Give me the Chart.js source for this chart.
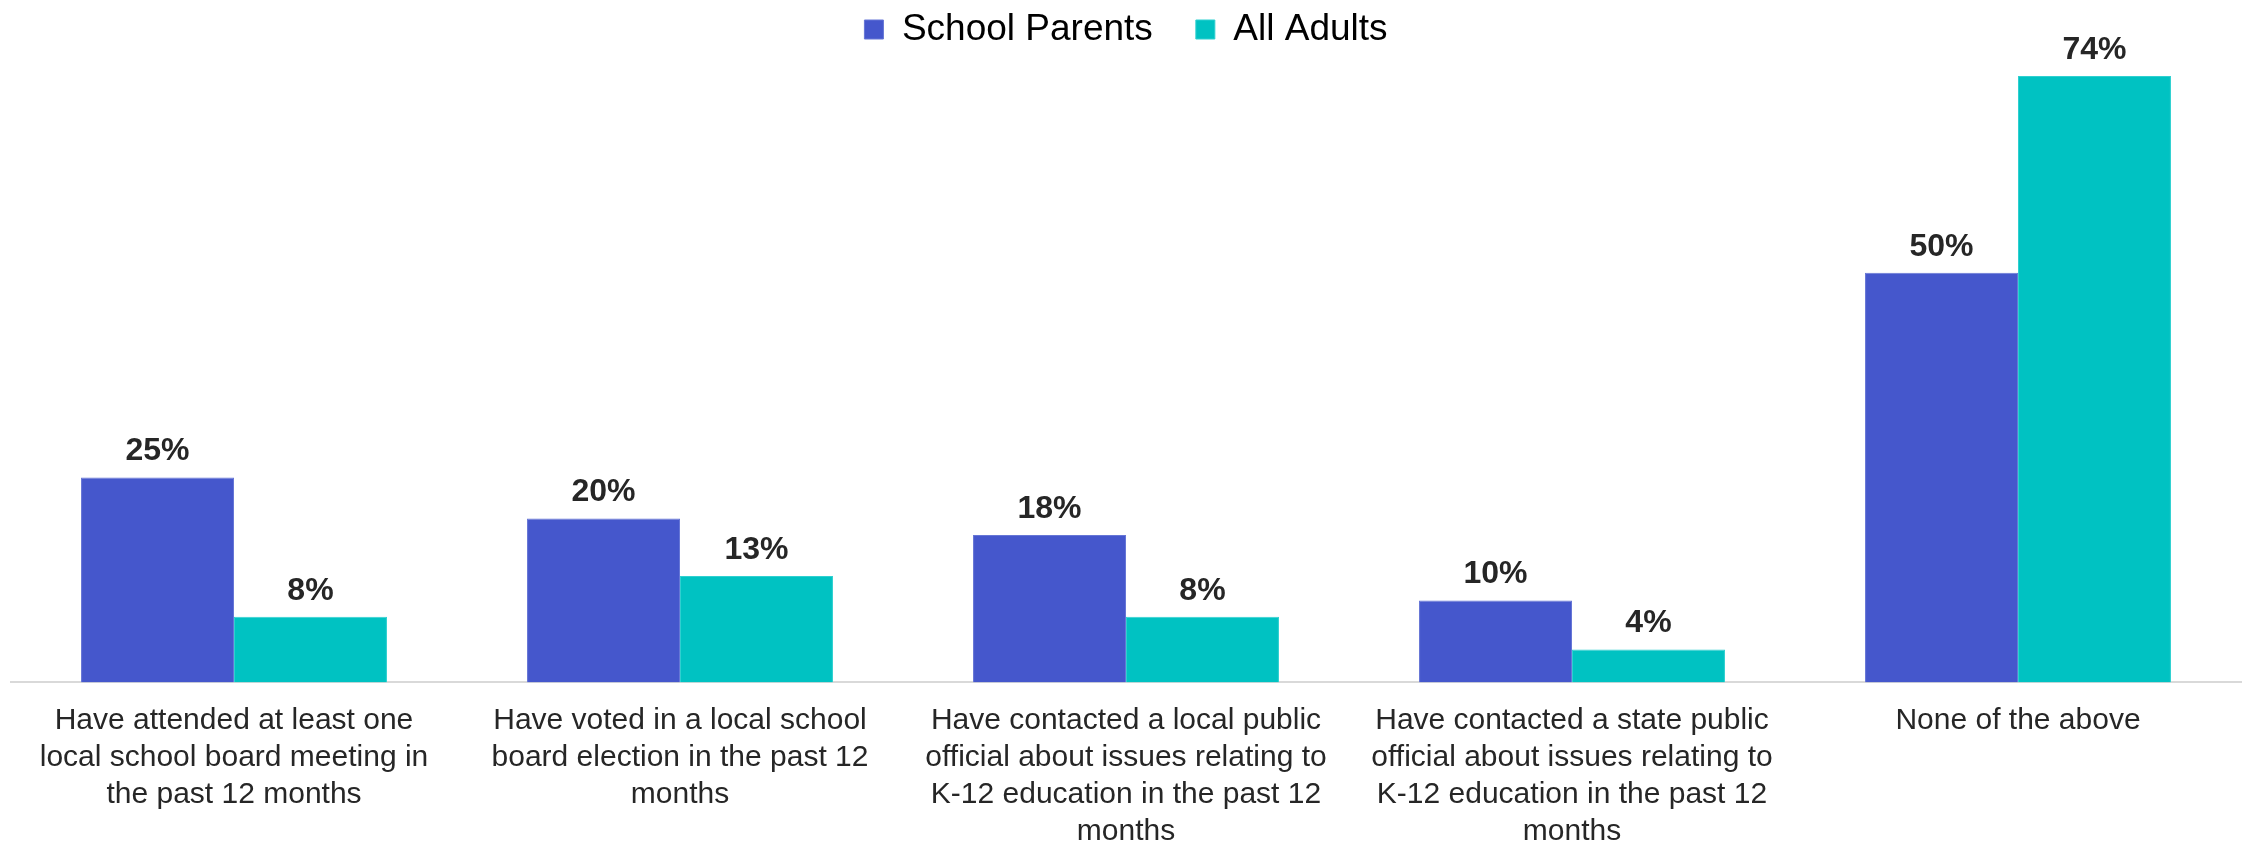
<!DOCTYPE html>
<html>
<head>
<meta charset="utf-8">
<script src="https://cdn.jsdelivr.net/npm/chart.js@4/dist/chart.umd.min.js"></script>
<style>
  html, body { margin: 0; padding: 0; background: #fff; }
  #wrap { width: 2244px; height: 844px; }
</style>
</head>
<body>
<div id="wrap"><canvas id="chart"></canvas></div>
<script>
// categories (wrapped the same way as the picture)
var categories = [
    ["Have attended at least one", "local school board meeting in", "the past 12 months"],
    ["Have voted in a local school", "board election in the past 12", "months"],
    ["Have contacted a local public", "official about issues relating to", "K-12 education in the past 12", "months"],
    ["Have contacted a state public", "official about issues relating to", "K-12 education in the past 12", "months"],
    ["None of the above"]
];

// series values (%)
var schoolParents = [25, 20, 18, 10, 50];
var allAdults = [8, 13, 8, 4, 74];

var seriesNames = ["School Parents", "All Adults"];

// draws the "25%" labels above each bar
var barLabels = {
    id: 'barLabels',
    afterDatasetsDraw: function(chart) {
        var ctx = chart.ctx;
        ctx.save();
        ctx.font = 'bold 32px "Liberation Sans", Arial, sans-serif';
        ctx.fillStyle = '#262626';
        ctx.textAlign = 'center';
        ctx.textBaseline = 'bottom';
        chart.data.datasets.forEach(function(ds, i) {
            var meta = chart.getDatasetMeta(i);
            meta.data.forEach(function(bar, j) {
                ctx.fillText(ds.data[j] + '%', bar.x, bar.y - 10);
            });
        });
        ctx.restore();
    }
};

var ctx = document.getElementById("chart").getContext('2d');
var chart = new Chart(ctx, {
    type: 'bar',
    data: {
        labels: categories,
        datasets: [
            {
                label: seriesNames[0],
                data: schoolParents,
                backgroundColor: "#4557cc",
                borderColor: "#6676d6",
                borderWidth: 1
            },
            {
                label: seriesNames[1],
                data: allAdults,
                backgroundColor: "#00c2c2",
                borderColor: "#2fd0d0",
                borderWidth: 1
            }
        ]
    },
    options: {
        responsive: true,
        maintainAspectRatio: false,
        animation: false,
        layout: {
            // negative top/bottom so the legend and labels sit like the original
            padding: { left: 11, right: 3, top: -32, bottom: -18 }
        },
        datasets: {
            bar: { categoryPercentage: 0.686, barPercentage: 1.0 }
        },
        plugins: {
            legend: {
                display: true,
                position: 'top',
                labels: {
                    boxWidth: 19,
                    boxHeight: 19,
                    padding: 43,
                    color: '#000',
                    font: { size: 37, family: '"Liberation Sans", Arial, sans-serif' }
                }
            },
            tooltip: { enabled: false }
        },
        scales: {
            x: {
                grid: { display: false },
                border: { display: true, color: '#d9d9d9', width: 2 },
                ticks: {
                    color: '#262626',
                    maxRotation: 0,
                    autoSkip: false,
                    padding: 12,
                    font: { size: 30, lineHeight: 1.23, family: '"Liberation Sans", Arial, sans-serif' }
                }
            },
            y: {
                display: false,
                min: 0,
                max: 76.2
            }
        }
    },
    plugins: [barLabels]
});
</script>
</body>
</html>
